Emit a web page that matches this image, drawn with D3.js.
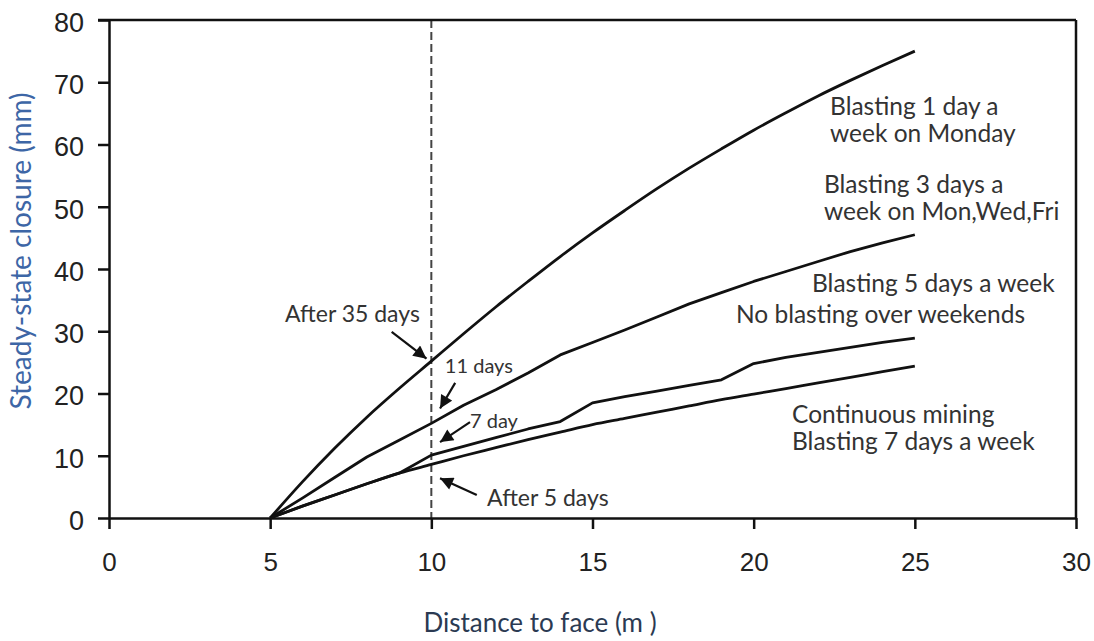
<!DOCTYPE html>
<html>
<head>
<meta charset="utf-8">
<script src="https://cdn.jsdelivr.net/npm/d3@7"></script>
<style>
  html, body { margin: 0; padding: 0; background: #fff; }
  svg { display: block; }
</style>
</head>
<body>
<svg id="chart" width="1094" height="641"></svg>
<script>
// Distance behind the face (m) at which closure was evaluated
const distance = [5, 6, 7, 8, 9, 10, 11, 12, 13, 14, 15, 16, 17, 18, 19, 20, 21, 22, 23, 24, 25];

// Steady-state closure (mm) for each blasting schedule
const blastOnceWeekly = [0, 5.8, 11.2, 16.2, 20.8, 25.2, 29.6, 33.9, 38.0, 42.0, 45.8, 49.4, 52.9, 56.2, 59.3, 62.3, 65.1, 67.8, 70.3, 72.7, 75.0];
const blastThreeDays  = [0, 3.2, 6.5, 9.8, 12.5, 15.2, 18.1, 20.6, 23.3, 26.2, 28.2, 30.2, 32.3, 34.4, 36.2, 38.0, 39.6, 41.2, 42.8, 44.2, 45.5];
const blastFiveDays   = [0, 1.9, 3.7, 5.5, 7.2, 10.1, 11.5, 12.9, 14.3, 15.5, 18.5, 19.5, 20.4, 21.3, 22.2, 24.8, 25.8, 26.6, 27.4, 28.2, 28.9];
const continuousMining = [0, 1.9, 3.7, 5.5, 7.2, 8.6, 10.0, 11.3, 12.6, 13.8, 15.0, 16.0, 17.0, 18.0, 19.0, 19.9, 20.8, 21.7, 22.6, 23.5, 24.4];

// Axis ticks
const xTicks = [0, 5, 10, 15, 20, 25, 30];
const yTicks = [0, 10, 20, 30, 40, 50, 60, 70, 80];

// Reference distance marked by the dashed line
const markerDistance = [10];

const svg = d3.select("#chart");

const x = d3.scaleLinear().domain([0, 30]).range([109, 1076]);
const y = d3.scaleLinear().domain([0, 80]).range([518, 20]);

const ink = "#111";
const tickFont = "'Liberation Sans', Arial, sans-serif";
const textFont = "Lato, 'Open Sans', sans-serif";

// Dashed reference line
svg.selectAll("line.marker")
  .data(markerDistance)
  .join("line")
  .attr("class", "marker")
  .attr("x1", d => x(d)).attr("x2", d => x(d))
  .attr("y1", y(80)).attr("y2", y(0))
  .attr("stroke", "#444")
  .attr("stroke-width", 2)
  .attr("stroke-dasharray", "8,4");

// Axes
const yAxis = d3.axisLeft(y).tickValues(yTicks).tickSize(11).tickSizeOuter(0).tickPadding(14);
const xAxis = d3.axisBottom(x).tickValues(xTicks).tickSize(11).tickSizeOuter(0).tickPadding(32);

const gy = svg.append("g").attr("transform", `translate(${x(0)},0)`).call(yAxis);
const gx = svg.append("g").attr("transform", `translate(0,${y(0)})`).call(xAxis);

[gx, gy].forEach(g => {
  g.select(".domain").attr("stroke", ink).attr("stroke-width", 2.5);
  g.selectAll(".tick line").attr("stroke", ink).attr("stroke-width", 2.5);
  g.selectAll(".tick text")
    .attr("fill", "#222")
    .style("font-family", tickFont);
});
gy.selectAll(".tick text").style("font-size", "27px").attr("dy", "0.42em");
gx.selectAll(".tick text").style("font-size", "26px").attr("dy", "0.4em");

// Frame: top and right edges
svg.append("line")
  .attr("x1", x(0) - 11).attr("x2", x(30))
  .attr("y1", y(80)).attr("y2", y(80))
  .attr("stroke", ink).attr("stroke-width", 2.5);
svg.append("line")
  .attr("x1", x(30)).attr("x2", x(30))
  .attr("y1", y(80)).attr("y2", y(0))
  .attr("stroke", ink).attr("stroke-width", 2.5);

// Closure curves
const series = [
  { values: blastOnceWeekly, curve: d3.curveMonotoneX },
  { values: blastThreeDays, curve: d3.curveLinear },
  { values: blastFiveDays, curve: d3.curveLinear },
  { values: continuousMining, curve: d3.curveMonotoneX }
];

series.forEach(s => {
  const line = d3.line()
    .x((d, i) => x(distance[i]))
    .y(d => y(d))
    .curve(s.curve);
  svg.append("path")
    .datum(s.values)
    .attr("d", line)
    .attr("fill", "none")
    .attr("stroke", ink)
    .attr("stroke-width", 2.8)
    .attr("stroke-linejoin", "round");
});

// Arrowhead
svg.append("defs").append("marker")
  .attr("id", "arrow")
  .attr("viewBox", "0 0 10 10")
  .attr("refX", 10).attr("refY", 5)
  .attr("markerUnits", "userSpaceOnUse")
  .attr("markerWidth", 15).attr("markerHeight", 13)
  .attr("orient", "auto")
  .append("path")
  .attr("d", "M0,0 L10,5 L0,10 Z")
  .attr("fill", ink);

// Callout arrows, tail to tip in data units
const arrows = [
  { from: [8.77, 29.9], to: [9.85, 25.6] },
  { from: [10.74, 21.7], to: [10.27, 17.6] },
  { from: [11.2, 15.4], to: [10.27, 12.2] },
  { from: [11.41, 3.7], to: [10.27, 6.4] }
];
svg.selectAll("line.arrow")
  .data(arrows)
  .join("line")
  .attr("class", "arrow")
  .attr("x1", d => x(d.from[0])).attr("y1", d => y(d.from[1]))
  .attr("x2", d => x(d.to[0])).attr("y2", d => y(d.to[1]))
  .attr("stroke", ink)
  .attr("stroke-width", 2.2)
  .attr("marker-end", "url(#arrow)");

// Callout labels
const callouts = [
  { text: "After 35 days", at: [5.46, 31.5], size: 23 },
  { text: "11 days", at: [10.42, 23.3], size: 20 },
  { text: "7 day", at: [11.2, 14.5], size: 20 },
  { text: "After 5 days", at: [11.73, 1.9], size: 23 }
];
svg.selectAll("text.callout")
  .data(callouts)
  .join("text")
  .attr("class", "callout")
  .attr("x", d => x(d.at[0]))
  .attr("y", d => y(d.at[1]))
  .attr("fill", "#333")
  .style("font-family", textFont)
  .style("font-size", d => d.size + "px")
  .text(d => d.text);

// Series labels
const seriesLabels = [
  { lines: ["Blasting 1 day a", "week on Monday"], at: [22.37, 64.7], anchor: "start" },
  { lines: ["Blasting 3 days a", "week on Mon,Wed,Fri"], at: [22.18, 52.2], anchor: "start" },
  { lines: ["Blasting 5 days a week"], at: [21.81, 36.3], anchor: "start" },
  { lines: ["No blasting over weekends"], at: [28.42, 31.3], anchor: "end" },
  { lines: ["Continuous mining", "Blasting 7 days a week"], at: [21.19, 15.3], anchor: "start" }
];
seriesLabels.forEach(l => {
  const t = svg.append("text")
    .attr("x", x(l.at[0]))
    .attr("y", y(l.at[1]))
    .attr("text-anchor", l.anchor)
    .attr("fill", "#333")
    .style("font-family", textFont)
    .style("font-size", "24.5px");
  l.lines.forEach((s, i) => {
    t.append("tspan")
      .attr("x", x(l.at[0]))
      .attr("dy", i === 0 ? 0 : 27)
      .text(s);
  });
});

// Axis titles
svg.append("text")
  .attr("transform", `translate(31,251) rotate(-90)`)
  .attr("text-anchor", "middle")
  .attr("fill", "#3d66a6")
  .style("font-family", textFont)
  .style("font-size", "28px")
  .text("Steady-state closure (mm)");

svg.append("text")
  .attr("x", 540)
  .attr("y", 632)
  .attr("text-anchor", "middle")
  .attr("fill", "#2b3a52")
  .style("font-family", textFont)
  .style("font-size", "26px")
  .text("Distance to face (m )");
</script>
</body>
</html>
